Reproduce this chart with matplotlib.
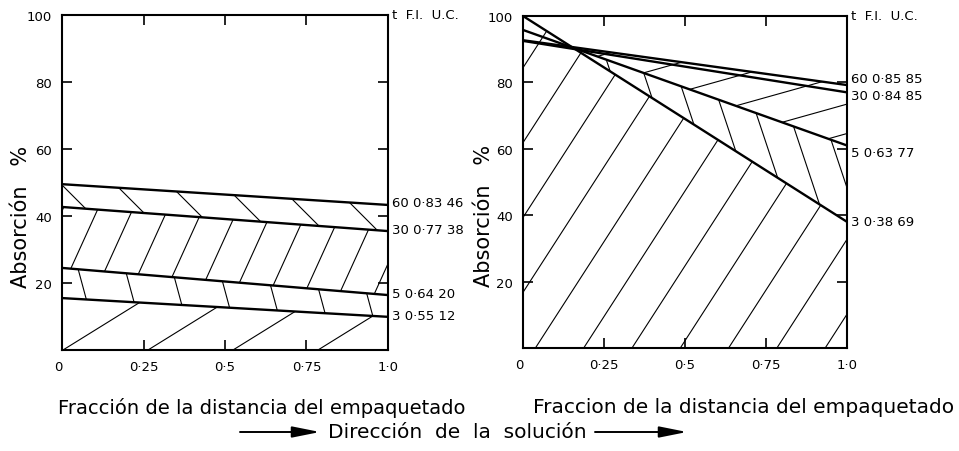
import numpy as np
import matplotlib.pyplot as plt
from matplotlib.patches import FancyArrowPatch

plt.rcParams['font.family'] = ['DejaVu Sans']

# fraccion de la distancia del empaquetado (extremos de cada recta)
fraccion = [0.0, 1.0]
tiempos = [60, 30, 5, 3]

# panel izquierdo: absorcion % al inicio y al final del empaquetado
izq_inicio = [49.5, 42.7, 24.5, 15.5]
izq_fin = [43.3, 35.5, 16.4, 9.9]
izq_fi = ["0·83", "0·77", "0·64", "0·55"]
izq_uc = [46, 38, 20, 12]

# panel derecho
der_inicio = [92.7, 92.5, 95.8, 100.0]
der_fin = [79.2, 77.0, 61.0, 38.0]
der_fi = ["0·85", "0·84", "0·63", "0·38"]
der_uc = [85, 85, 77, 69]

xticks = [0, 0.25, 0.5, 0.75, 1.0]
xticklabels = ["0", "0·25", "0·5", "0·75", "1·0"]
yticks = [20, 40, 60, 80, 100]

W_PX, H_PX = 959, 452
fig = plt.figure(figsize=(W_PX / 100, H_PX / 100), dpi=100)
ax1 = fig.add_axes([62 / W_PX, 1 - 351 / H_PX, 326 / W_PX, 335 / H_PX])
ax2 = fig.add_axes([523 / W_PX, 1 - 349 / H_PX, 324 / W_PX, 332 / H_PX])

xs = np.linspace(0, 1, 401)


def recta(inicio, fin):
    return np.interp(xs, fraccion, [inicio, fin])


def rayado(ax, lower, upper, slope, offset, step, lw=0.8):
    # lineas paralelas recortadas a la banda entre lower y upper
    band = ax.fill_between(xs, lower, upper, facecolor='none', edgecolor='none')
    path = band.get_paths()[0]
    pos = ax.get_position()
    w, h = pos.width * W_PX, pos.height * H_PX
    corners = [x - y / slope for x in (0, w) for y in (0, h)]
    k0 = int(np.floor((min(corners) - offset) / step)) - 1
    k1 = int(np.ceil((max(corners) - offset) / step)) + 1
    Y = np.array([0.0, h])
    for k in range(k0, k1 + 1):
        c = offset + k * step
        X = c + Y / slope
        ln, = ax.plot(X / w, Y / h, transform=ax.transAxes, color='k', lw=lw)
        ln.set_clip_path(path, ax.transData)


def ejes(ax, xlab):
    ax.set_xlim(0, 1)
    ax.set_ylim(0, 100)
    ax.set_xticks(xticks)
    ax.set_xticklabels(xticklabels)
    ax.set_yticks(yticks)
    ax.tick_params(direction='in', length=7, width=1.2, top=True, right=True,
                   labelsize=9.5, pad=7)
    ax.get_xticklabels()[0].set_ha('right')
    for s in ax.spines.values():
        s.set_linewidth(1.5)
    ax.set_ylabel("Absorción   %", fontsize=15)
    ax.yaxis.set_label_coords(xlab, 0.40)


def etiquetas(ax, fin, fi, uc, dy):
    tr = ax.get_yaxis_transform()
    ax.text(1.012, 100, "t  F.I.  U.C.", transform=tr, fontsize=9.5,
            ha='left', va='center')
    for t, y, f, u, d in zip(tiempos, fin, fi, uc, dy):
        ax.text(1.012, y + d, f"{t} {f} {u}", transform=tr, fontsize=9.5,
                ha='left', va='center')


# ---- panel izquierdo
l60, l30, l5, l3 = [recta(a, b) for a, b in zip(izq_inicio, izq_fin)]
rayado(ax1, l30, l60, -1.0, 165, 54)
rayado(ax1, l5, l30, 2.2, 6.8, 35)
rayado(ax1, l3, l5, -3.7, 38, 47)
rayado(ax1, np.zeros_like(xs), l3, 0.62, 1, 85)
for a, b in zip(izq_inicio, izq_fin):
    ax1.plot(fraccion, [a, b], color='k', lw=1.7)
ejes(ax1, -0.095)
etiquetas(ax1, izq_fin, izq_fi, izq_uc, [0.7, 0.5, 0.6, 0.5])

# ---- panel derecho
r60, r30, r5, r3 = [recta(a, b) for a, b in zip(der_inicio, der_fin)]
rayado(ax2, np.zeros_like(xs), r3, 1.55, -180.8, 48.3)
rayado(ax2, r3, np.maximum(r3, r5), -3.0, 179.4, 33)
rayado(ax2, np.maximum(r3, r5), np.maximum(r3, r60), 0.28, -547, 105)
for a, b in zip(der_inicio, der_fin):
    ax2.plot(fraccion, [a, b], color='k', lw=1.7)
ejes(ax2, -0.09)
etiquetas(ax2, der_fin, der_fi, der_uc, [2.1, -0.8, -2.0, 0.0])

# textos inferiores
fig.text(58 / W_PX, 1 - 408 / H_PX, "Fracción de la distancia del empaquetado",
         fontsize=14, ha='left', va='center')
fig.text(533 / W_PX, 1 - 408 / H_PX, "Fraccion de la distancia del empaquetado",
         fontsize=14.5, ha='left', va='center')
yb = 1 - 433 / H_PX
fig.text(457 / W_PX, yb, "Dirección  de  la  solución", fontsize=14.5,
         ha='center', va='center')
for x0, x1 in [(240, 320), (595, 687)]:
    fig.add_artist(FancyArrowPatch((x0 / W_PX, yb), (x1 / W_PX, yb),
                                   transform=fig.transFigure,
                                   arrowstyle='-|>,head_length=1.4,head_width=0.28',
                                   mutation_scale=12, lw=1.4, color='k',
                                   shrinkA=0, shrinkB=0))

fig.savefig('out.png', dpi=100)
